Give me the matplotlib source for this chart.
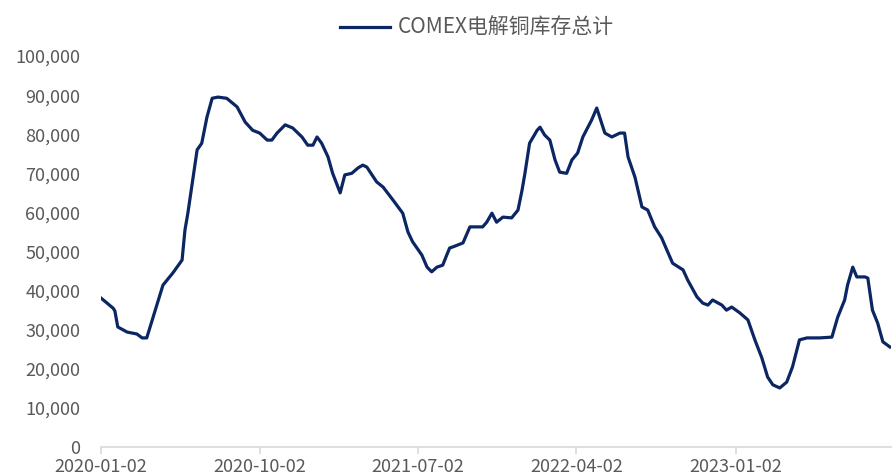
import matplotlib
matplotlib.use("Agg")
import matplotlib.pyplot as plt
import matplotlib.dates as mdates
from matplotlib.ticker import FuncFormatter, MultipleLocator
import pandas as pd

plt.rcParams["font.family"] = ["Noto Sans CJK SC", "DejaVu Sans"]

# COMEX copper inventory (short tons)
dates = [
    "2020-01-02", "2020-01-23", "2020-01-26", "2020-01-31", "2020-02-16", "2020-03-04",
    "2020-03-13", "2020-03-21", "2020-04-01", "2020-04-18", "2020-05-05", "2020-05-21",
    "2020-05-26", "2020-05-31", "2020-06-16", "2020-06-24", "2020-07-03", "2020-07-12",
    "2020-07-22", "2020-08-06", "2020-08-24", "2020-09-07", "2020-09-20", "2020-10-02",
    "2020-10-15", "2020-10-23", "2020-11-01", "2020-11-15", "2020-11-28", "2020-12-14",
    "2020-12-24", "2021-01-02", "2021-01-09", "2021-01-17", "2021-01-28", "2021-02-05",
    "2021-02-18", "2021-02-26", "2021-03-10", "2021-03-21", "2021-03-29", "2021-04-05",
    "2021-04-22", "2021-05-03", "2021-05-20", "2021-06-06", "2021-06-15", "2021-06-23",
    "2021-07-09", "2021-07-18", "2021-07-26", "2021-08-04", "2021-08-14", "2021-08-21",
    "2021-08-26", "2021-09-01", "2021-09-18", "2021-09-30", "2021-10-22", "2021-10-29",
    "2021-11-07", "2021-11-15", "2021-11-26", "2021-12-11", "2021-12-22", "2021-12-29",
    "2022-01-03", "2022-01-11", "2022-01-24", "2022-01-29", "2022-02-06", "2022-02-15",
    "2022-02-24", "2022-03-04", "2022-03-16", "2022-03-25", "2022-04-04", "2022-04-13",
    "2022-04-28", "2022-05-07", "2022-05-12", "2022-05-21", "2022-06-02", "2022-06-16",
    "2022-06-24", "2022-06-30", "2022-07-12", "2022-07-24", "2022-08-03", "2022-08-15",
    "2022-08-27", "2022-09-05", "2022-09-15", "2022-10-03", "2022-10-11", "2022-10-27",
    "2022-11-06", "2022-11-15", "2022-11-23", "2022-12-09", "2022-12-17", "2022-12-26",
    "2023-01-09", "2023-01-23", "2023-02-04", "2023-02-16", "2023-02-26", "2023-03-07",
    "2023-03-19", "2023-03-31", "2023-04-10", "2023-04-22", "2023-05-05", "2023-05-27",
    "2023-06-17", "2023-06-27", "2023-07-09", "2023-07-14", "2023-07-23", "2023-07-30",
    "2023-08-13", "2023-08-18", "2023-08-26", "2023-09-04", "2023-09-13", "2023-09-25",
]
inventory = [
    38100, 35500, 34800, 30700, 29400, 28900,
    27900, 27900, 33200, 41400, 44500, 47800,
    55500, 59800, 76000, 77700, 84400, 89200,
    89500, 89200, 87000, 83100, 81000, 80300,
    78500, 78500, 80300, 82400, 81600, 79300,
    77200, 77200, 79300, 77700, 74200, 70000,
    65000, 69600, 70000, 71400, 72100, 71600,
    67800, 66500, 63200, 59800, 55000, 52500,
    49100, 46000, 44800, 46000, 46500, 49100,
    50900, 51200, 52200, 56300, 56300, 57500,
    59800, 57500, 58800, 58600, 60600, 65700,
    70000, 77700, 81000, 81800, 79800, 78500,
    73400, 70300, 70000, 73400, 75200, 79300,
    83600, 86700, 84400, 80300, 79300, 80300,
    80300, 74200, 69000, 61400, 60600, 56300,
    53500, 50400, 47000, 45300, 42700, 38400,
    36800, 36300, 37600, 36300, 35000, 35800,
    34300, 32500, 27400, 22800, 17900, 15900,
    15100, 16600, 20500, 27400, 27900, 27900,
    28100, 33200, 37600, 41400, 46000, 43500,
    43500, 43200, 35000, 31700, 26900, 25600,
]
series_label = "COMEX电解铜库存总计"
x_ticks = ["2020-01-02", "2020-10-02", "2021-07-02", "2022-04-02", "2023-01-02"]

NAVY = "#0b2663"
GREY_TEXT = "#595959"
AXIS_GREY = "#d9d9d9"

fig = plt.figure(figsize=(8.96, 4.75), dpi=100)
ax = fig.add_axes([0.1127, 0.059, 0.8817, 0.823])

ax.plot(pd.to_datetime(dates), inventory, color=NAVY, linewidth=2.3,
        solid_joinstyle="round", label=series_label)

ax.set_ylim(0, 100000)
ax.yaxis.set_major_locator(MultipleLocator(10000))
ax.yaxis.set_major_formatter(FuncFormatter(lambda v, _: f"{int(v):,}"))
ax.set_xlim(pd.Timestamp("2020-01-02"), pd.Timestamp("2023-09-27"))
ax.set_xticks(pd.to_datetime(x_ticks))
ax.xaxis.set_major_formatter(mdates.DateFormatter("%Y-%m-%d"))

for side in ("top", "right", "left"):
    ax.spines[side].set_visible(False)
ax.spines["bottom"].set_color(AXIS_GREY)
ax.spines["bottom"].set_linewidth(1.2)
ax.tick_params(axis="y", length=0, pad=15, labelsize=13, labelcolor=GREY_TEXT)
ax.tick_params(axis="x", length=5, width=1.2, color=AXIS_GREY, pad=3,
               labelsize=13, labelcolor=GREY_TEXT)

leg = ax.legend(loc="center", bbox_to_anchor=(477 / 896, 0.941),
                bbox_transform=fig.transFigure, frameon=False,
                fontsize=15, handlelength=2.4, handletextpad=0.35, borderaxespad=0)
for text in leg.get_texts():
    text.set_color(GREY_TEXT)

fig.savefig("out.png", dpi=100)
